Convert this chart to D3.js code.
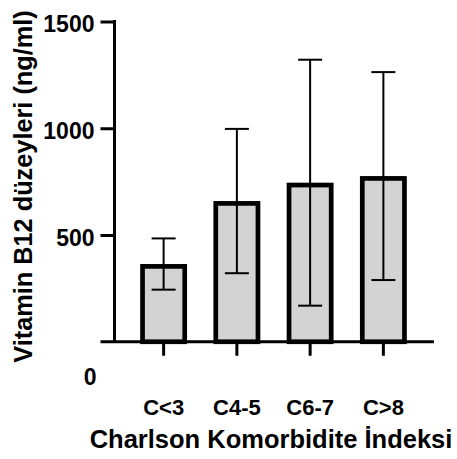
<!DOCTYPE html>
<html>
<head>
<meta charset="utf-8">
<script src="https://cdn.jsdelivr.net/npm/d3@7"></script>
<style>
  html, body { margin: 0; padding: 0; background: #fff; }
  svg { display: block; }
  text { font-family: "Liberation Sans", Arial, sans-serif; font-weight: bold; fill: #000; }
</style>
</head>
<body>
<script>
const categories = ["C<3", "C4-5", "C6-7", "C>8"];
const means = [364, 659, 745, 776];
const sds = [120, 338, 576, 487];
const yTicks = [500, 1000, 1500];
const yTitle = "Vitamin B12 düzeyleri (ng/ml)";
const xTitle = "Charlson Komorbidite İndeksi";

const W = 457, H = 459;
const svg = d3.select("body").append("svg").attr("width", W).attr("height", H);

const y = d3.scaleLinear().domain([0, 1500]).range([341.75, 21.5]);
const x = d3.scaleBand().domain(categories).range([127, 420]).paddingInner(0.36).paddingOuter(0.18);

const axisX = 114.5, axisLeft = 100.5, axisRight = 434;
const barSW = 4.7;

const data = categories.map((c, i) => ({ c, m: means[i], sd: sds[i] }));
svg.append("g").selectAll("rect").data(data).join("rect")
  .attr("x", d => x(d.c) + barSW / 2)
  .attr("y", d => y(d.m) + barSW / 2)
  .attr("width", x.bandwidth() - barSW)
  .attr("height", d => y(0) - y(d.m) - barSW / 2)
  .attr("fill", "#d3d3d3")
  .attr("stroke", "#000")
  .attr("stroke-width", barSW);

const capW = 24;
const eb = svg.append("g").attr("stroke", "#000").attr("stroke-width", 2);
data.forEach(d => {
  const cx = x(d.c) + x.bandwidth() / 2;
  eb.append("line").attr("x1", cx).attr("x2", cx).attr("y1", y(d.m + d.sd)).attr("y2", y(d.m - d.sd));
  eb.append("line").attr("x1", cx - capW / 2).attr("x2", cx + capW / 2).attr("y1", y(d.m + d.sd)).attr("y2", y(d.m + d.sd));
  eb.append("line").attr("x1", cx - capW / 2).attr("x2", cx + capW / 2).attr("y1", y(d.m - d.sd)).attr("y2", y(d.m - d.sd));
});

const yAxis = d3.axisLeft(y).tickValues(yTicks).tickSize(axisX - axisLeft).tickPadding(6).tickFormat(d3.format("d"));
const gy = svg.append("g").attr("transform", `translate(${axisX},0)`).call(yAxis);
gy.select(".domain").remove();
gy.selectAll(".tick line").attr("stroke", "#000").attr("stroke-width", 3);
gy.selectAll(".tick text").attr("font-size", 23).attr("dy", null).attr("y", 10).attr("x", -(axisX - 94.5));
svg.append("line").attr("x1", axisX).attr("x2", axisX).attr("y1", y(1500) - 1.5).attr("y2", y(0))
  .attr("stroke", "#000").attr("stroke-width", 3);
// zero label, offset below the x axis
svg.append("text").attr("x", 96.5).attr("y", y(0) + 42.75).attr("text-anchor", "end").attr("font-size", 23).text("0");

svg.append("line").attr("x1", axisLeft).attr("x2", axisRight).attr("y1", y(0)).attr("y2", y(0))
  .attr("stroke", "#000").attr("stroke-width", 3);
const xAxis = d3.axisBottom(x).tickSize(14).tickPadding(44);
const gx = svg.append("g").attr("transform", `translate(0,${y(0)})`).call(xAxis);
gx.select(".domain").remove();
gx.selectAll(".tick line").attr("stroke", "#000").attr("stroke-width", 3);
gx.selectAll(".tick text").attr("font-size", 22).attr("dy", null).attr("y", 415 - y(0));

svg.append("text").attr("x", 271).attr("y", 448).attr("text-anchor", "middle").attr("font-size", 25.5).text(xTitle);
svg.append("text").attr("transform", "translate(32,186.5) rotate(-90)").attr("text-anchor", "middle").attr("font-size", 25.3).text(yTitle);
</script>
</body>
</html>
